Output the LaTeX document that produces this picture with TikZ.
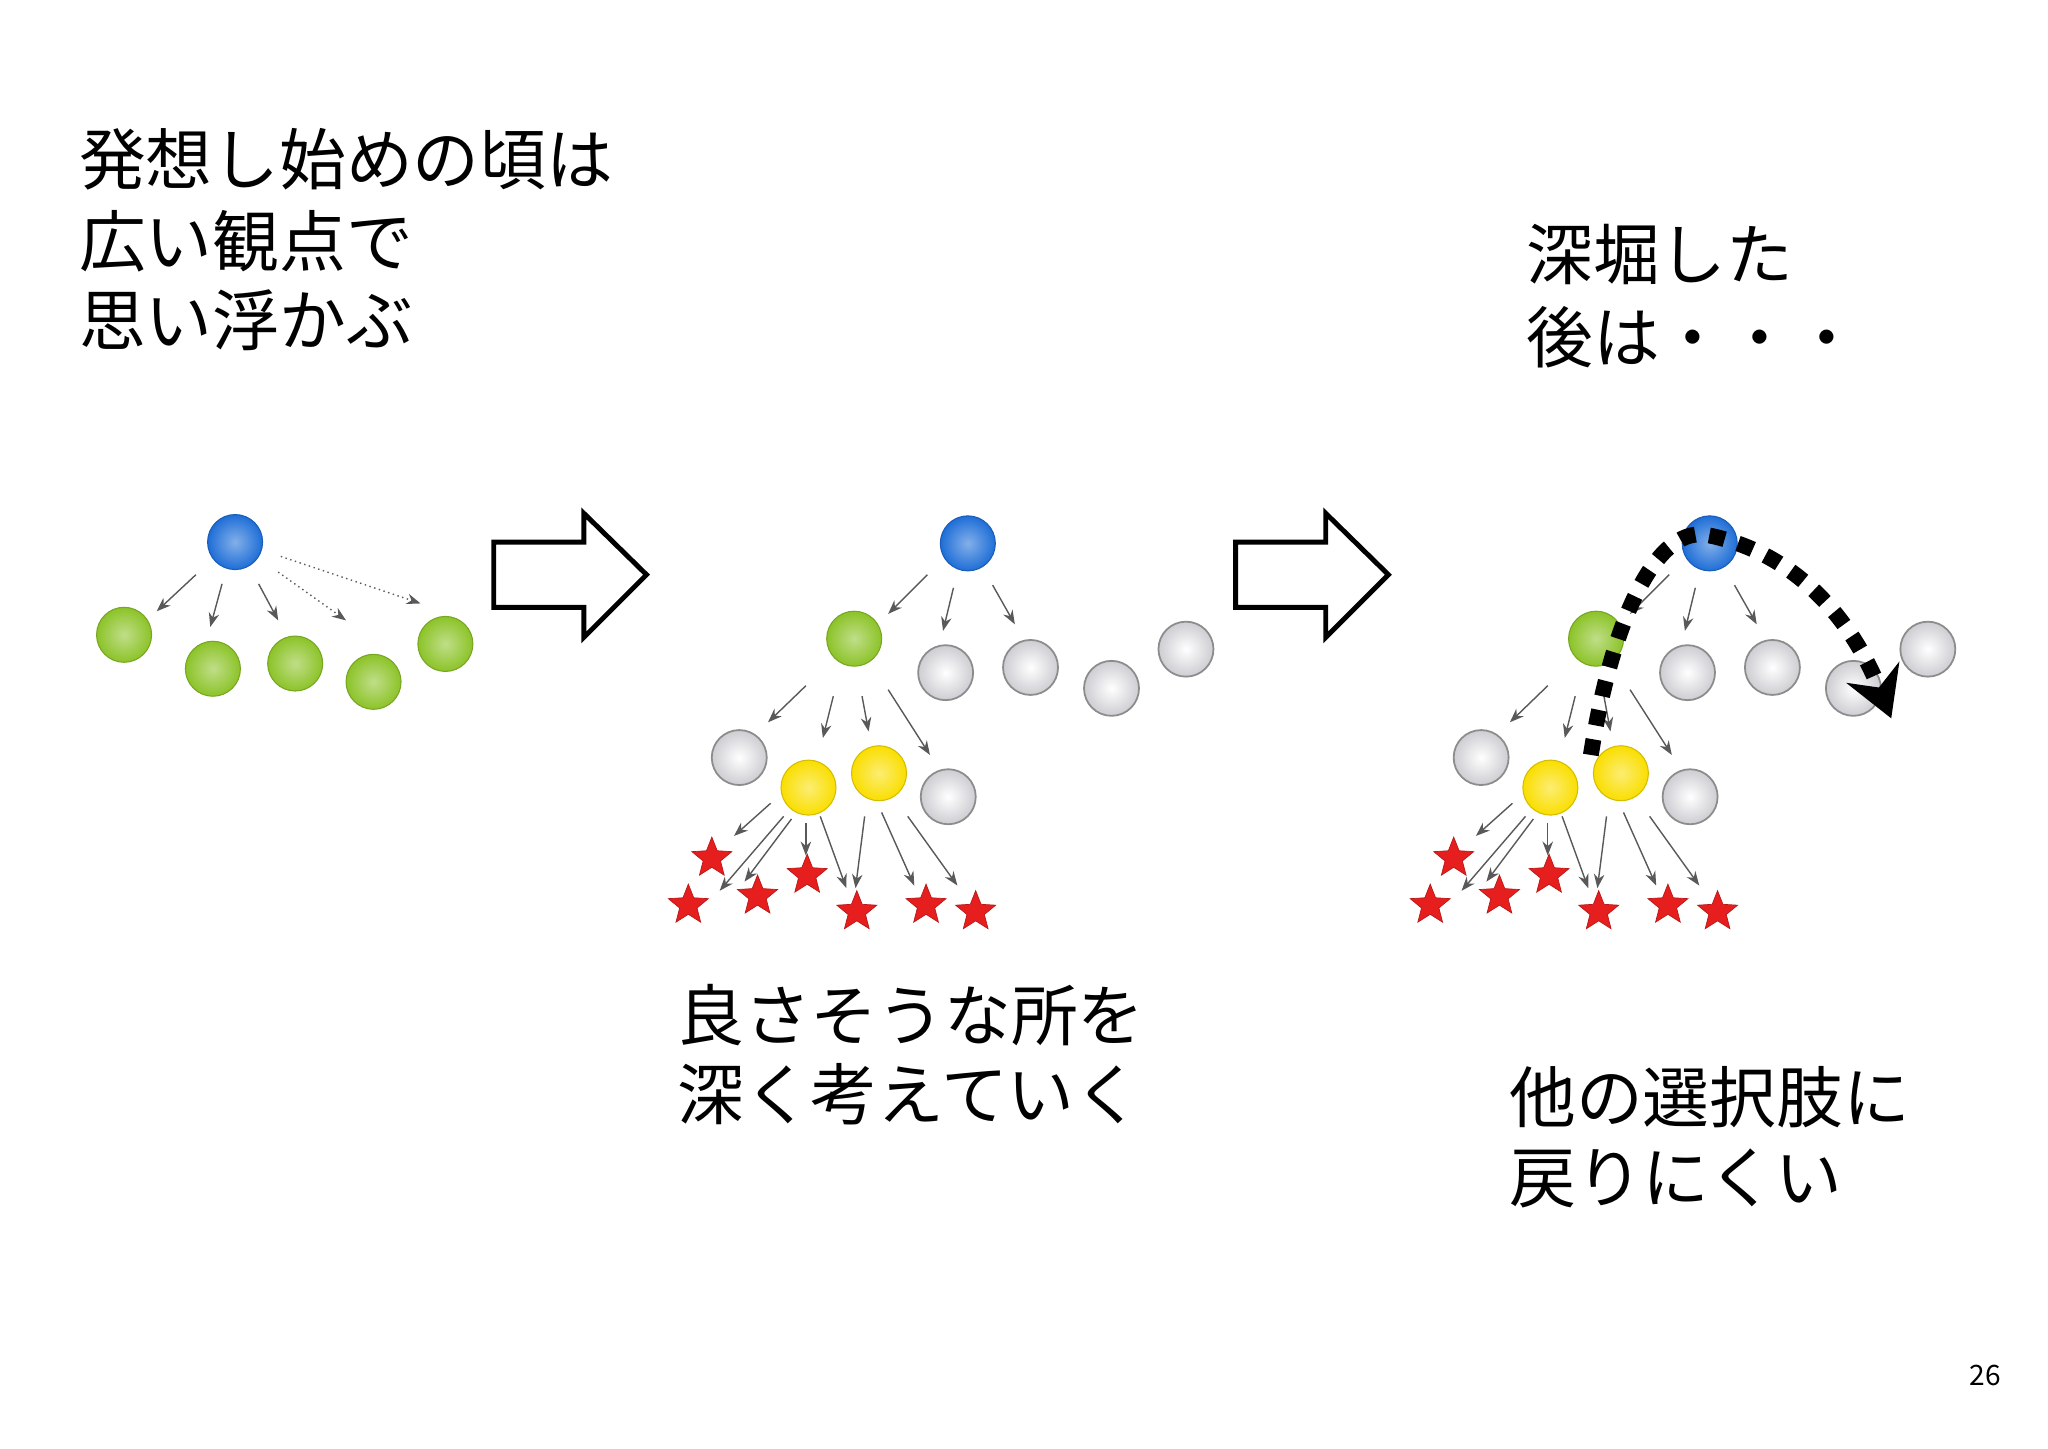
\documentclass[tikz,border=0pt]{standalone}
\usepackage{fontspec}
\setmainfont{Noto Sans CJK JP}
\usetikzlibrary{shapes.geometric,arrows.meta}
\definecolor{cblue}{RGB}{30,110,215}
\definecolor{cgreen}{RGB}{140,195,40}
\definecolor{cgray}{RGB}{205,205,210}
\definecolor{cyellow}{RGB}{250,222,0}
\definecolor{cred}{RGB}{230,30,30}
\tikzset{
 ball/.style={circle,minimum size=0.55cm,inner sep=0,inner color=#1!55!white,outer color=#1,draw=#1!85!black,line width=0.3pt,shading=radial},
 gball/.style={circle,minimum size=0.55cm,inner sep=0,inner color=white,outer color=cgray,draw=gray!90,line width=0.5pt,shading=radial},
 rstar/.style={star,star points=5,star point ratio=2.3,minimum size=0.42cm,inner sep=0,fill=cred,draw=cred!80!black,line width=0.2pt},
 thin arr/.style={-{Stealth[length=4pt,width=3pt]},gray!70!black,line width=0.4pt},
 txt/.style={anchor=west,font=\fontsize{19}{22}\selectfont,inner sep=0},
 bigarrow/.style={draw=black,line width=1.4pt,fill=white}
}
\begin{document}
\begin{tikzpicture}[x=0.013061cm,y=-0.013061cm]
\useasboundingbox (0,0) rectangle (1568,1109);
% texts
\node[txt] (t1) at (60,122) {発想し始めの頃は};
\node[txt] (t2) at (60,185) {広い観点で};
\node[txt] (t3) at (60,245) {思い浮かぶ};
\node[txt] (t4) at (1168,195) {深堀した};
\node[txt] (t5) at (1168,258) {後は・・・};
\node[txt] (t6) at (518,777) {良さそうな所を};
\node[txt] (t7) at (518,838) {深く考えていく};
\node[txt] (t8) at (1155,840) {他の選択肢に};
\node[txt] (t9) at (1155,902) {戻りにくい};
\node[anchor=center,font=\fontsize{8}{9}\selectfont] (pg) at (1520,1053) {26};
% tree 1
\node[ball=cblue] (a0) at (180,415) {};
\foreach \n/\x/\y in {1/95/486,2/163/512,3/226/508,4/286/522,5/341/493}
  \node[ball=cgreen] (a\n) at (\x,\y) {};
\coordinate (s1) at (150,440); \coordinate (e1) at (120,468);
\coordinate (s2) at (170,447); \coordinate (e2) at (161,480);
\coordinate (s3) at (198,447); \coordinate (e3) at (213,475);
\coordinate (s4) at (213,438); \coordinate (e4) at (265,475);
\coordinate (s5) at (215,426); \coordinate (e5) at (322,462);
\draw[thin arr] (s1)--(e1);
\draw[thin arr] (s2)--(e2);
\draw[thin arr] (s3)--(e3);
\draw[thin arr,densely dotted] (s4)--(e4);
\draw[thin arr,densely dotted] (s5)--(e5);
% big arrows
\draw[bigarrow] (378,415)--(447,415)--(447,393)--(495,440)--(447,488)--(447,465)--(378,465)--cycle;
\draw[bigarrow] (946,415)--(1015,415)--(1015,393)--(1063,440)--(1015,488)--(1015,465)--(946,465)--cycle;
% trees 2 and 3
\foreach \o/\p in {0/b,568/c}{
\begin{scope}[xshift=\o*0.013061cm]
\node[ball=cblue] (\p0) at (741,416) {};
\node[ball=cgreen] (\p1) at (654,489) {};
\node[gball] (\p2) at (724,515) {};
\node[gball] (\p3) at (789,511) {};
\node[gball] (\p4) at (851,527) {};
\node[gball] (\p5) at (908,497) {};
\node[gball] (\p6) at (566,580) {};
\node[ball=cyellow] (\p7) at (619,603) {};
\node[ball=cyellow] (\p8) at (673,592) {};
\node[gball] (\p9) at (726,610) {};
\foreach \k/\x/\y in {1/545/657,2/527/693,3/580/686,4/618/670,5/656/698,6/709/693,7/747/698}
  \node[rstar] (\p s\k) at (\x,\y) {};
\foreach \a/\b/\c/\d in {710/440/680/470,730/450/722/483,760/448/777/478,
  617/525/588/553,638/533/630/565,660/533/665/560,680/528/712/578,
  590/615/562/640,600/625/551/682,606/627/570/675,617/630/617/655,
  628/625/648/680,662/625/655/680,675/622/700/678,695/625/733/678}
  \draw[thin arr] (\a,\b)--(\c,\d);
\end{scope}}
% dotted path
\coordinate (p0) at (1218,578);
\coordinate (p1) at (1448,550);
\draw[line width=4.5pt,dash pattern=on 4.5pt off 4pt,-{Stealth[length=14pt,width=16pt]}]
 (p0) .. controls (1235,470) and (1270,400) .. (1309,410)
      .. controls (1380,425) and (1420,480) .. (p1);
\end{tikzpicture}
\end{document}
